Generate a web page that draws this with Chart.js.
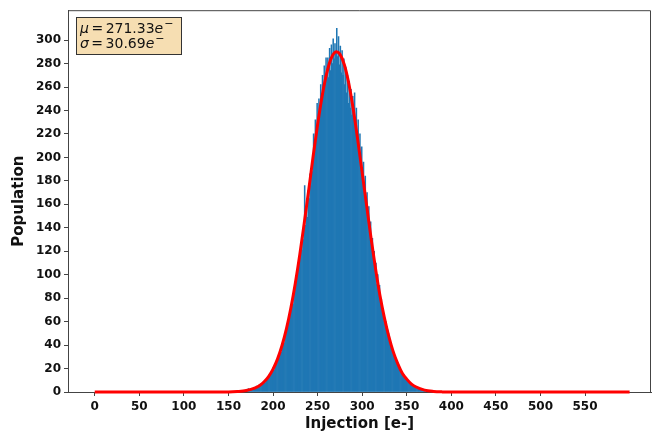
<!DOCTYPE html>
<html>
<head>
<meta charset="utf-8">
<script src="https://cdn.jsdelivr.net/npm/chart.js@4.4.0/dist/chart.umd.min.js"></script>
<style>
body{margin:0;background:#fff;}
#c{display:block;}
</style>
</head>
<body>
<canvas id="c" width="652" height="437"></canvas>
<script>
// histogram: one bin per electron, first bin starts at 168
const binStart = 168;
const counts = [
1,0,2,1,3,1,2,2,3,2,4,3,3,5,4,4,6,5,7,6,8,7,9,8,11,10,12,14,13,16,15,18,
21,19,24,26,25,29,31,30,36,34,41,44,42,49,52,50,58,61,64,68,70,77,75,86,88,90,99,104,108,112,
118,126,121,138,130,176,142,158,149,172,165,186,176,195,188,220,209,232,222,246,
231,250,238,262,251,270,255,278,264,285,270,285,268,293,274,296,280,301,284,297,
288,310,286,303,279,295,272,291,270,284,262,277,255,270,246,265,242,258,236,252,
236,255,229,242,220,232,208,220,198,209,188,196,176,184,163,170,150,158,138,145,
124,131,112,120,101,110,92,100,84,91,76,79,74,70,67,63,60,56,53,50,
47,44,42,38,36,34,31,29,27,25,24,22,20,19,17,16,15,13,12,11,
10,9,9,8,7,6,6,5,5,4,4,3,3,3,2,2,2,1,2,1,1,0,1,1,0,1
];
// gaussian fit curve
const fitX = [0,150,160,170,180,185,190,195,200,205,210,215,220,225,230,235,240,245,250,255,260,265,271,275,280,285,290,295,300,305,310,315,320,325,330,335,340,345,350,355,360,370,380,390,400,600];
const fitY = [0,0.1,0.4,1.2,3.5,5.5,8.7,13.2,19.5,28,39.4,53.8,71.6,92.8,117,144,172,201,228,252,271,284,290,288,279,263,241,215,187,159,131,105,82,63,47,34,24,16,11,7,4.5,1.6,0.5,0.1,0,0];
const xTicks = [0,50,100,150,200,250,300,350,400,450,500,550];
const yTicks = [0,20,40,60,80,100,120,140,160,180,200,220,240,260,280,300];
const fitMu = '271.33', fitSigma = '30.69';

const FONT = 'DejaVu Sans';
const bars = counts.map((c,i)=>({x: binStart + i + 0.5, y: c}));
const fit = fitX.map((x,i)=>({x: x, y: fitY[i]}));

const boxPlugin = {
  id:'box',
  afterDraw(chart){
    const ctx = chart.ctx, a = chart.chartArea;
    ctx.save();
    // top / right spines
    ctx.strokeStyle = '#444';
    ctx.lineWidth = 1;
    ctx.beginPath();
    ctx.moveTo(a.left, a.top+0.5); ctx.lineTo(a.right-0.5, a.top+0.5); ctx.lineTo(a.right-0.5, a.bottom);
    ctx.stroke();
    // stats box
    ctx.fillStyle = '#f6deb2';
    ctx.fillRect(76.5, 17.5, 105, 37);
    ctx.strokeStyle = '#333';
    ctx.strokeRect(76.5, 17.5, 105, 37);
    ctx.fillStyle = '#111';
    ctx.textBaseline = 'alphabetic';
    const line = (sym, val, y)=>{
      let x = 80;
      ctx.font = 'oblique 14px "' + FONT + '"';
      ctx.fillText(sym, x, y); x += ctx.measureText(sym).width + 2.5;
      ctx.font = '14px "' + FONT + '"';
      ctx.fillText('=', x, y); x += ctx.measureText('=').width + 2.5;
      ctx.fillText(val, x, y); x += ctx.measureText(val).width;
      ctx.font = 'oblique 14px "' + FONT + '"';
      ctx.fillText('e', x, y); x += ctx.measureText('e').width + 1;
      ctx.font = '11px "' + FONT + '"';
      ctx.fillText('\u2212', x, y-6);
    };
    line('\u03bc', fitMu, 33);
    line('\u03c3', fitSigma, 48);
    ctx.restore();
  }
};

new Chart(document.getElementById('c').getContext('2d'), {
  type:'bar',
  data:{
    datasets:[
      {type:'line', data: fit, borderColor:'#ff0000', borderWidth:3, pointRadius:0,
       cubicInterpolationMode:'monotone', fill:false, order:0, clip:4},
      {type:'bar', data: bars, backgroundColor:'#1f77b4', borderWidth:0,
       barPercentage:1, categoryPercentage:1, order:1}
    ]
  },
  options:{
    responsive:false,
    animation:false,
    layout:{padding:{top:9, right:1, left:0, bottom:0}},
    plugins:{legend:{display:false}, tooltip:{enabled:false}},
    scales:{
      x:{
        type:'linear', min:-30, max:624, offset:false,
        afterBuildTicks: s => { s.ticks = xTicks.map(v=>({value:v})); },
        afterFit: s => { s.height = 45; },
        grid:{drawOnChartArea:false, offset:false, color:'#444', tickLength:4},
        border:{color:'#444'},
        ticks:{color:'#111', font:{family:FONT, size:12, weight:'bold'}, padding:4, maxRotation:0, autoSkip:false},
        title:{display:true, text:'Injection [e-]', color:'#111', font:{family:FONT, size:15, weight:'bold'}, padding:{top:4}}
      },
      y:{
        min:0, max:325.5,
        afterBuildTicks: s => { s.ticks = yTicks.map(v=>({value:v})); },
        afterFit: s => { s.width = 68; },
        grid:{drawOnChartArea:false, color:'#444', tickLength:4},
        border:{color:'#444'},
        ticks:{color:'#111', font:{family:FONT, size:12, weight:'bold'}, padding:3, autoSkip:false},
        title:{display:true, text:'Population', color:'#111', font:{family:FONT, size:15, weight:'bold'}, padding:{top:10}}
      }
    }
  },
  plugins:[boxPlugin]
});
</script>
</body>
</html>
